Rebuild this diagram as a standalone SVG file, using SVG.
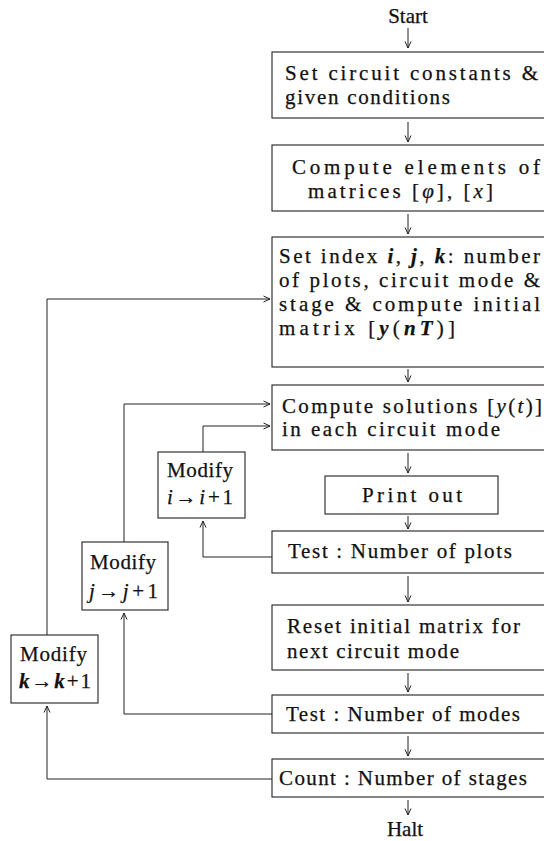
<svg xmlns="http://www.w3.org/2000/svg" width="544" height="841" viewBox="0 0 544 841">
<style>
text{font-family:"Liberation Serif","DejaVu Serif",serif;font-size:21px;fill:#111;stroke:#111;stroke-width:0.25}
.c{text-anchor:middle}
.bx{fill:none;stroke:#222;stroke-width:1.1}
.ln{fill:none;stroke:#222;stroke-width:1}
.m{font-style:italic}
.mb{font-style:italic;font-weight:bold}
</style>
<defs>
<marker id="ah" viewBox="0 0 8 8" markerWidth="8" markerHeight="8" refX="7.5" refY="4" orient="auto" markerUnits="userSpaceOnUse">
<path d="M1,1 L7.5,4 L1,7" fill="none" stroke="#222" stroke-width="1"/>
</marker>
</defs>
<rect width="544" height="841" fill="#fff"/>

<g id="start"><text class="c" x="408" y="23">Start</text></g>

<g id="n1">
<rect class="bx" x="272" y="52" width="290" height="66"/>
<text x="285" y="80" textLength="253" lengthAdjust="spacing">Set circuit constants &amp;</text>
<text x="285" y="104" textLength="165" lengthAdjust="spacing">given conditions</text>
</g>

<g id="n2">
<rect class="bx" x="272" y="145" width="290" height="66"/>
<text x="292" y="174" textLength="248" lengthAdjust="spacing">Compute elements of</text>
<text x="308" y="198" textLength="185" lengthAdjust="spacing">matrices [<tspan class="m">φ</tspan>], [<tspan class="m">x</tspan>]</text>
</g>

<g id="n3">
<rect class="bx" x="272" y="237" width="290" height="130"/>
<text x="279" y="263" textLength="261" lengthAdjust="spacing">Set index <tspan class="mb">i</tspan>, <tspan class="mb">j</tspan>, <tspan class="mb">k</tspan>: number</text>
<text x="279" y="287" textLength="261" lengthAdjust="spacing">of plots, circuit mode &amp;</text>
<text x="279" y="311" textLength="261" lengthAdjust="spacing">stage &amp; compute initial</text>
<text x="279" y="335" textLength="176" lengthAdjust="spacing">matrix [<tspan class="mb">y</tspan>(<tspan class="mb">nT</tspan>)]</text>
</g>

<g id="n4">
<rect class="bx" x="272" y="385" width="290" height="65"/>
<text x="282" y="413" textLength="260" lengthAdjust="spacing">Compute solutions [<tspan class="m">y</tspan>(<tspan class="m">t</tspan>)]</text>
<text x="282" y="436" textLength="218" lengthAdjust="spacing">in each circuit mode</text>
</g>

<g id="n5">
<rect class="bx" x="325" y="476" width="173" height="38"/>
<text x="362" y="502" textLength="100" lengthAdjust="spacing">Print out</text>
</g>

<g id="n6">
<rect class="bx" x="272" y="531" width="290" height="42"/>
<text x="288" y="558" textLength="224" lengthAdjust="spacing">Test : Number of plots</text>
</g>

<g id="n7">
<rect class="bx" x="272" y="605" width="290" height="65"/>
<text x="287" y="633" textLength="233" lengthAdjust="spacing">Reset initial matrix for</text>
<text x="287" y="658" textLength="172" lengthAdjust="spacing">next circuit mode</text>
</g>

<g id="n8">
<rect class="bx" x="272" y="695" width="290" height="38"/>
<text x="286" y="721" textLength="234" lengthAdjust="spacing">Test : Number of modes</text>
</g>

<g id="n9">
<rect class="bx" x="272" y="759" width="290" height="38"/>
<text x="279" y="785" textLength="248" lengthAdjust="spacing">Count : Number of stages</text>
</g>

<g id="halt"><text class="c" x="405" y="836">Halt</text></g>

<g id="mi">
<rect class="bx" x="158" y="452" width="87" height="66"/>
<text x="167" y="477" textLength="66" lengthAdjust="spacing">Modify</text>
<text x="167" y="504" textLength="66" lengthAdjust="spacing"><tspan class="m">i</tspan>→<tspan class="m">i</tspan>+1</text>
</g>

<g id="mj">
<rect class="bx" x="82" y="542" width="86" height="68"/>
<text x="90" y="569" textLength="66" lengthAdjust="spacing">Modify</text>
<text x="89" y="598" textLength="69" lengthAdjust="spacing"><tspan class="m">j</tspan>→<tspan class="m">j</tspan>+1</text>
</g>

<g id="mk">
<rect class="bx" x="11" y="635" width="87" height="68"/>
<text x="20" y="661" textLength="67" lengthAdjust="spacing">Modify</text>
<text x="19" y="688" textLength="72" lengthAdjust="spacing"><tspan class="mb">k</tspan>→<tspan class="mb">k</tspan>+1</text>
</g>

<g id="connectors">
<line class="ln" x1="408" y1="28" x2="408" y2="48" marker-end="url(#ah)"/>
<line class="ln" x1="408" y1="122" x2="408" y2="142" marker-end="url(#ah)"/>
<line class="ln" x1="408" y1="214" x2="408" y2="234" marker-end="url(#ah)"/>
<line class="ln" x1="408" y1="369" x2="408" y2="382" marker-end="url(#ah)"/>
<line class="ln" x1="408" y1="453" x2="408" y2="473" marker-end="url(#ah)"/>
<line class="ln" x1="408" y1="516" x2="408" y2="529" marker-end="url(#ah)"/>
<line class="ln" x1="408" y1="576" x2="408" y2="602" marker-end="url(#ah)"/>
<line class="ln" x1="408" y1="673" x2="408" y2="692" marker-end="url(#ah)"/>
<line class="ln" x1="408" y1="736" x2="408" y2="756" marker-end="url(#ah)"/>
<line class="ln" x1="408" y1="800" x2="408" y2="815" marker-end="url(#ah)"/>
<polyline class="ln" points="272,557 203,557 203,521" marker-end="url(#ah)"/>
<polyline class="ln" points="203,452 203,426 270,426" marker-end="url(#ah)"/>
<polyline class="ln" points="272,714 124,714 124,613" marker-end="url(#ah)"/>
<polyline class="ln" points="124,542 124,404 270,404" marker-end="url(#ah)"/>
<polyline class="ln" points="272,779 47,779 47,706" marker-end="url(#ah)"/>
<polyline class="ln" points="47,635 47,299 270,299" marker-end="url(#ah)"/>
</g>
</svg>
